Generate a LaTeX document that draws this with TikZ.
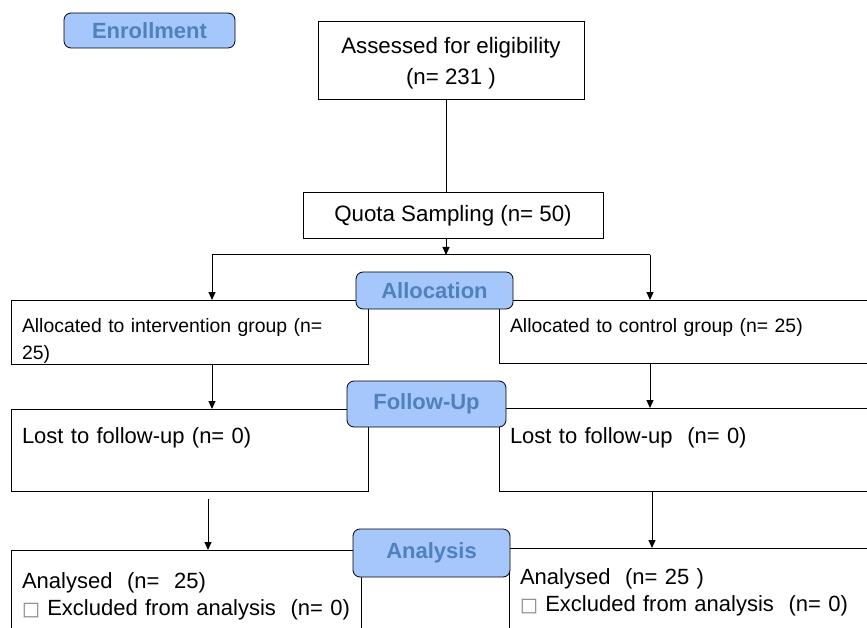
\documentclass[tikz,border=0pt]{standalone}
\usepackage{fontspec}
\setmainfont{Liberation Sans}
\newfontfamily\dejavu{DejaVu Sans}
\usepackage{tikz}
\usetikzlibrary{arrows.meta}
\definecolor{phasefill}{RGB}{166,199,252}
\definecolor{phasetext}{RGB}{79,129,189}
\newcommand{\fsbig}{\fontsize{22.3}{31}\selectfont}
\newcommand{\fsmid}{\fontsize{22}{27}\selectfont}
\newcommand{\fssmall}{\fontsize{19.4}{27}\selectfont}
\newcommand{\tofu}{{\dejavu\fontsize{19}{19}\selectfont\color{gray}□}}

\begin{document}
\begin{tikzpicture}[x=1pt,y=-1pt]
		\tikzset{
			box/.style={draw,line width=1pt,outer sep=0pt,anchor=north west},
			stagebox/.style={box,inner sep=0pt,align=center,font=\fsbig},
			groupbox/.style={box,inner xsep=11pt,inner ysep=0pt,align=left},
			phase/.style={draw,line width=0.8pt,fill=phasefill,rounded corners=7pt,outer sep=0pt,inner sep=0pt,anchor=north west,text=phasetext,font=\fontsize{22}{26}\selectfont\bfseries},
		}
		\tikzset{
			edge/.style={color=black,line width=1pt},
			arr/.style={edge,-{Triangle[length=8pt,width=7pt]}},
		}
		
		\useasboundingbox (0,0) rectangle (867,628);
		\clip (0,0) rectangle (867,628);
		
		\node[stagebox,minimum width=266pt,minimum height=78pt,text height=58pt,text depth=10pt] (assess) at (318,22) {Assessed for eligibility\\(n= 231 )};
		\node[stagebox,minimum width=300pt,minimum height=46pt] (quota) at (303,193) {Quota Sampling (n= 50)};
		
		\coordinate (split) at (446,255);
		\coordinate (splitL) at (212,255);
		\coordinate (splitR) at (650,255);
		
		\node[groupbox,font=\fssmall,text width=335pt,text height=32pt,text depth=32pt] (allocL) at (11,300) {Allocated to intervention group (n=\\25)};
		\node[groupbox,font=\fssmall,text width=349pt,text height=32pt,text depth=31pt] (allocR) at (499,300) {Allocated to control group (n= 25)};
		
		\node[groupbox,font=\fsmid,text width=335pt,text height=34pt,text depth=48pt] (lostL) at (11,409) {Lost to follow-up (n= 0)};
		\node[groupbox,font=\fsmid,text width=349pt,text height=35pt,text depth=48pt] (lostR) at (499,408) {Lost to follow-up\ \ (n= 0)};
		
		\node[groupbox,font=\fsmid,text width=328pt,text height=38pt,text depth=52pt] (anaL) at (11,550) {Analysed\ \ (n=\ \ 25)\\\tofu\ Excluded from analysis\ \ (n= 0)};
		\node[groupbox,font=\fsmid,text width=339pt,text height=36pt,text depth=56pt] (anaR) at (509,548) {Analysed\ \ (n= 25 )\\\tofu\ Excluded from analysis\ \ (n= 0)};
		
		\node[phase,minimum width=171pt,minimum height=35pt] (enroll) at (64,13) {Enrollment};
		\node[phase,minimum width=157pt,minimum height=37pt] (alloc) at (356,272) {Allocation};
		\node[phase,minimum width=159pt,minimum height=46pt] (follow) at (347,381) {Follow-Up};
		\node[phase,minimum width=157pt,minimum height=48pt] (analysis) at (353,529) {Analysis};
		
		\coordinate (gapL) at (208,499);
		\coordinate (gapR) at (652,491);
		
		\draw[edge] (assess.south -| split) to (quota.north -| split);
		\draw[arr] (quota.south -| split) to (split);
		\draw[edge] (splitL) to (splitR);
		\draw[arr] (splitL) to (allocL.north -| splitL);
		\draw[arr] (splitR) to (allocR.north -| splitR);
		\draw[arr] (allocL.south -| splitL) to (lostL.north -| splitL);
		\draw[arr] (allocR.south -| splitR) to (lostR.north -| splitR);
		\draw[arr] (gapL) to (anaL.north -| gapL);
		\draw[arr] (lostR.south -| gapR) to (anaR.north -| gapR);
	\end{tikzpicture}
\end{document}
